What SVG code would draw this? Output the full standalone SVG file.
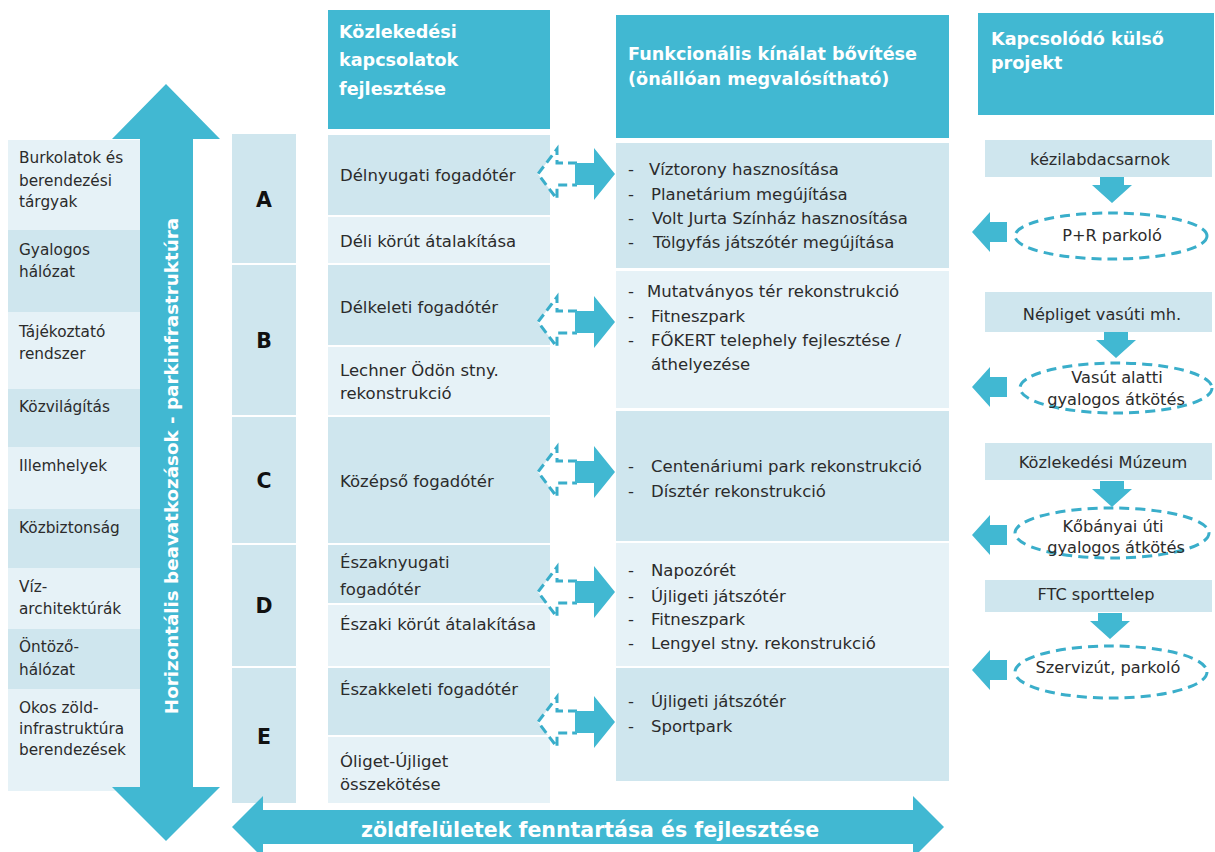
<svg xmlns="http://www.w3.org/2000/svg" xmlns:xlink="http://www.w3.org/1999/xlink" width="1215" height="852" viewBox="0 0 1215 852">
<style>
.hdr{fill:#41B8D2}
.dk{fill:#CFE6EE}
.lt{fill:#E6F2F7}
.t{font-family:"DejaVu Sans","Liberation Sans",sans-serif;fill:#2b2b2b;font-size:16.5px}
.tl{font-family:"DejaVu Sans","Liberation Sans",sans-serif;fill:#2b2b2b;font-size:15.3px}
.tr{font-family:"DejaVu Sans","Liberation Sans",sans-serif;fill:#2b2b2b;font-size:16.2px;text-anchor:middle}
.h{font-family:"DejaVu Sans","Liberation Sans",sans-serif;fill:#ffffff;font-size:17.6px;font-weight:bold}
.let{font-family:"DejaVu Sans","Liberation Sans",sans-serif;fill:#111;font-size:20.5px;font-weight:bold;text-anchor:middle}
.big{font-family:"DejaVu Sans","Liberation Sans",sans-serif;fill:#ffffff;font-weight:bold}
.fill{fill:#41B8D2}
.dash{fill:#ffffff;stroke:#3AAECA;stroke-width:3;stroke-dasharray:9,5}
.ell{fill:#ffffff;stroke:#3AAECA;stroke-width:3;stroke-dasharray:10,6}
</style>
<defs>
<g id="biarrow">
<path class="dash" d="M577,-11 L557,-11 L557,-25 L538,0 L557,25 L557,11 L577,11"/>
<path class="fill" d="M575,-11 H594 V-26 L615,0 L594,26 V11 H575 Z"/>
</g>
<path id="downarrow" class="fill" d="M-12,0 H12 V8 H20 L0,26 L-20,8 H-12 Z"/>
<path id="leftarrow" class="fill" d="M1007,-10 H990 V-20 L972,0 L990,20 V10 H1007 Z"/>
</defs>
<rect width="1215" height="852" fill="#ffffff"/>

<!-- Left column -->
<g id="left-column">
<rect class="lt" x="8" y="140" width="132" height="90"/>
<rect class="dk" x="8" y="230" width="132" height="82"/>
<rect class="lt" x="8" y="312" width="132" height="77"/>
<rect class="dk" x="8" y="389" width="132" height="58"/>
<rect class="lt" x="8" y="447" width="132" height="62"/>
<rect class="dk" x="8" y="509" width="132" height="59"/>
<rect class="lt" x="8" y="568" width="132" height="61"/>
<rect class="dk" x="8" y="629" width="132" height="60"/>
<rect class="lt" x="8" y="689" width="132" height="102"/>
<text class="tl" x="19" y="163">Burkolatok és</text>
<text class="tl" x="19" y="186">berendezési</text>
<text class="tl" x="19" y="207">tárgyak</text>
<text class="tl" x="19" y="255">Gyalogos</text>
<text class="tl" x="19" y="277">hálózat</text>
<text class="tl" x="19" y="337">Tájékoztató</text>
<text class="tl" x="19" y="359">rendszer</text>
<text class="tl" x="19" y="412">Közvilágítás</text>
<text class="tl" x="19" y="471">Illemhelyek</text>
<text class="tl" x="19" y="533">Közbiztonság</text>
<text class="tl" x="19" y="592">Víz-</text>
<text class="tl" x="19" y="614">architektúrák</text>
<text class="tl" x="19" y="652">Öntöző-</text>
<text class="tl" x="19" y="675">hálózat</text>
<text class="tl" x="19" y="713">Okos zöld-</text>
<text class="tl" x="19" y="734">infrastruktúra</text>
<text class="tl" x="19" y="755">berendezések</text>
</g>

<!-- Vertical double arrow -->
<g id="vertical-arrow">
<polygon class="fill" points="166,84 220,139 193,139 193,787 220,787 166,841 112,787 140,787 140,139 112,139"/>
<text class="big" font-size="18.3" text-anchor="middle" transform="translate(178,466) rotate(-90)">Horizontális beavatkozások - parkinfrastruktúra</text>
</g>

<!-- Letter column -->
<g id="letters">
<rect class="dk" x="232" y="134" width="64" height="129"/>
<rect class="dk" x="232" y="265" width="64" height="150"/>
<rect class="dk" x="232" y="417" width="64" height="126"/>
<rect class="dk" x="232" y="545" width="64" height="121"/>
<rect class="dk" x="232" y="668" width="64" height="135"/>
<text class="let" x="264" y="207">A</text>
<text class="let" x="264" y="348">B</text>
<text class="let" x="264" y="488">C</text>
<text class="let" x="264" y="613">D</text>
<text class="let" x="264" y="744">E</text>
</g>

<!-- Transport column -->
<g id="transport-column">
<rect class="hdr" x="328" y="10" width="222" height="119"/>
<text class="h" x="339" y="38">Közlekedési</text>
<text class="h" x="339" y="66">kapcsolatok</text>
<text class="h" x="339" y="95">fejlesztése</text>
<rect class="dk" x="328" y="135" width="222" height="80"/>
<rect class="lt" x="328" y="217" width="222" height="46"/>
<rect class="dk" x="328" y="265" width="222" height="80"/>
<rect class="lt" x="328" y="347" width="222" height="68"/>
<rect class="dk" x="328" y="417" width="222" height="126"/>
<rect class="dk" x="328" y="545" width="222" height="58"/>
<rect class="lt" x="328" y="605" width="222" height="61"/>
<rect class="dk" x="328" y="668" width="222" height="67"/>
<rect class="lt" x="328" y="737" width="222" height="66"/>
<text class="t" x="340" y="181">Délnyugati fogadótér</text>
<text class="t" x="340" y="247">Déli körút átalakítása</text>
<text class="t" x="340" y="313">Délkeleti fogadótér</text>
<text class="t" x="340" y="376">Lechner Ödön stny.</text>
<text class="t" x="340" y="399">rekonstrukció</text>
<text class="t" x="340" y="487">Középső fogadótér</text>
<text class="t" x="340" y="568">Északnyugati</text>
<text class="t" x="340" y="595">fogadótér</text>
<text class="t" x="340" y="630">Északi körút átalakítása</text>
<text class="t" x="340" y="695">Északkeleti fogadótér</text>
<text class="t" x="340" y="767">Óliget-Újliget</text>
<text class="t" x="340" y="790">összekötése</text>
</g>

<!-- Functional column -->
<g id="functional-column">
<rect class="hdr" x="616" y="15" width="333" height="123"/>
<text class="h" x="628" y="60">Funkcionális kínálat bővítése</text>
<text class="h" x="628" y="85">(önállóan megvalósítható)</text>
<rect class="dk" x="616" y="143" width="333" height="125"/>
<rect class="lt" x="616" y="271" width="333" height="137"/>
<rect class="dk" x="616" y="411" width="333" height="130"/>
<rect class="lt" x="616" y="543" width="333" height="123"/>
<rect class="dk" x="616" y="668" width="333" height="113"/>
<g class="t">
<text x="628" y="175">-</text><text x="649" y="175">Víztorony hasznosítása</text>
<text x="628" y="200">-</text><text x="651" y="200">Planetárium megújítása</text>
<text x="628" y="224">-</text><text x="652" y="224">Volt Jurta Színház hasznosítása</text>
<text x="628" y="248">-</text><text x="653" y="248">Tölgyfás játszótér megújítása</text>
<text x="628" y="297">-</text><text x="647" y="297">Mutatványos tér rekonstrukció</text>
<text x="628" y="322">-</text><text x="651" y="322">Fitneszpark</text>
<text x="628" y="346">-</text><text x="651" y="346">FŐKERT telephely fejlesztése /</text>
<text x="651" y="370">áthelyezése</text>
<text x="628" y="472">-</text><text x="651" y="472">Centenáriumi park rekonstrukció</text>
<text x="628" y="497">-</text><text x="651" y="497">Dísztér rekonstrukció</text>
<text x="628" y="576">-</text><text x="651" y="576">Napozórét</text>
<text x="628" y="602">-</text><text x="651" y="602">Újligeti játszótér</text>
<text x="628" y="625">-</text><text x="651" y="625">Fitneszpark</text>
<text x="628" y="649">-</text><text x="651" y="649">Lengyel stny. rekonstrukció</text>
<text x="628" y="707">-</text><text x="651" y="707">Újligeti játszótér</text>
<text x="628" y="732">-</text><text x="651" y="732">Sportpark</text>
</g>
</g>

<!-- External projects column -->
<g id="external-column">
<rect class="hdr" x="978" y="13" width="236" height="102"/>
<text class="h" x="991" y="45">Kapcsolódó külső</text>
<text class="h" x="991" y="69">projekt</text>
</g>
<g id="ext-kezilabda">
<rect class="dk" x="985" y="140" width="227" height="37"/>
<text class="tr" x="1100" y="165">kézilabdacsarnok</text>
</g>
<g id="ext-pr">
<ellipse class="ell" cx="1111" cy="236" rx="96" ry="23"/>
<text class="tr" x="1112" y="241">P+R parkoló</text>
</g>
<g id="ext-nepliget">
<rect class="dk" x="985" y="292" width="227" height="40"/>
<text class="tr" x="1102" y="320">Népliget vasúti mh.</text>
</g>
<g id="ext-vasut">
<ellipse class="ell" cx="1116" cy="388" rx="96" ry="25"/>
<text class="tr" x="1117" y="383">Vasút alatti</text>
<text class="tr" x="1116" y="405">gyalogos átkötés</text>
</g>
<g id="ext-muzeum">
<rect class="dk" x="985" y="443" width="227" height="37"/>
<text class="tr" x="1103" y="468">Közlekedési Múzeum</text>
</g>
<g id="ext-kobanyai">
<ellipse class="ell" cx="1112" cy="533" rx="97" ry="25"/>
<text class="tr" x="1113" y="532">Kőbányai úti</text>
<text class="tr" x="1116" y="553">gyalogos átkötés</text>
</g>
<g id="ext-ftc">
<rect class="dk" x="985" y="580" width="227" height="32"/>
<text class="tr" x="1096" y="600">FTC sporttelep</text>
</g>
<g id="ext-szerviz">
<ellipse class="ell" cx="1111" cy="672" rx="96" ry="26"/>
<text class="tr" x="1108" y="673">Szervizút, parkoló</text>
</g>

<!-- Connectors -->
<g id="connectors">
<use xlink:href="#biarrow" href="#biarrow" transform="translate(0,174)"/>
<use xlink:href="#biarrow" href="#biarrow" transform="translate(0,322)"/>
<use xlink:href="#biarrow" href="#biarrow" transform="translate(0,472)"/>
<use xlink:href="#biarrow" href="#biarrow" transform="translate(0,592)"/>
<use xlink:href="#biarrow" href="#biarrow" transform="translate(0,722)"/>
<use xlink:href="#downarrow" href="#downarrow" transform="translate(1112,177)"/>
<use xlink:href="#downarrow" href="#downarrow" transform="translate(1116,332)"/>
<use xlink:href="#downarrow" href="#downarrow" transform="translate(1112,481)"/>
<use xlink:href="#downarrow" href="#downarrow" transform="translate(1110,613)"/>
<use xlink:href="#leftarrow" href="#leftarrow" transform="translate(0,232)"/>
<use xlink:href="#leftarrow" href="#leftarrow" transform="translate(0,387)"/>
<use xlink:href="#leftarrow" href="#leftarrow" transform="translate(0,535)"/>
<use xlink:href="#leftarrow" href="#leftarrow" transform="translate(0,670)"/>
</g>

<!-- Bottom horizontal arrow -->
<g id="bottom-arrow">
<polygon class="fill" points="232,827 263,796 263,810 913,810 913,796 944,827 913,858 913,844 263,844 263,858"/>
<text class="big" font-size="20.5" text-anchor="middle" x="590" y="837">zöldfelületek fenntartása és fejlesztése</text>
</g>
</svg>
